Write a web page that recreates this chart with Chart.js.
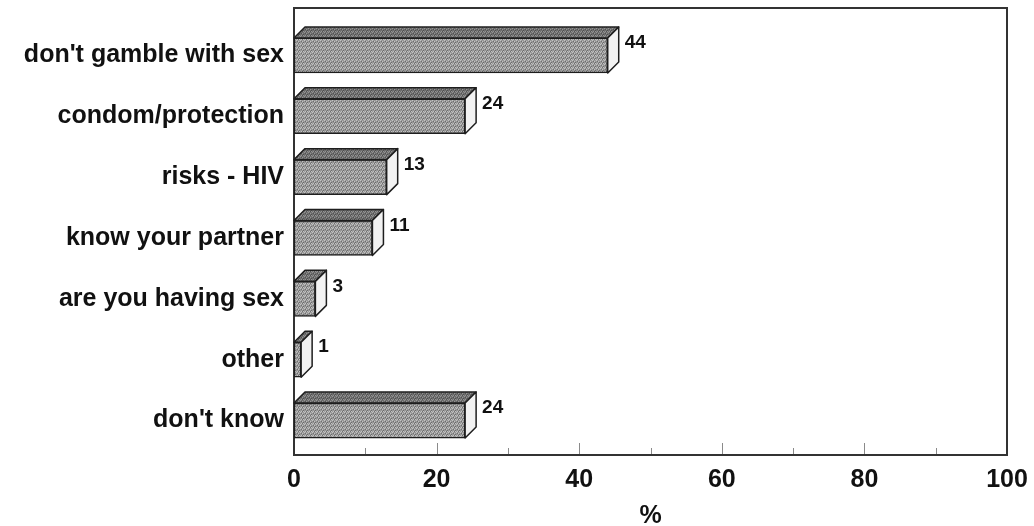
<!DOCTYPE html>
<html>
<head>
<meta charset="utf-8">
<script src="https://cdn.jsdelivr.net/npm/chart.js@4.4.1/dist/chart.umd.min.js"></script>
<style>
  body { margin: 0; background: #fff; }
</style>
</head>
<body>
<canvas id="answers" width="1034" height="526"></canvas>
<script>
const categories = ["don't gamble with sex", "condom/protection", "risks - HIV", "know your partner", "are you having sex", "other", "don't know"];
const percents = [44, 24, 13, 11, 3, 1, 24];
const xTicks = [0, 20, 40, 60, 80, 100];

const FONT = "'Liberation Sans', Arial, sans-serif";
const DEPTH = 11;

// small fixed stipple so the bars look like the old printed chart
function stipple(base, light, dark) {
    const c = document.createElement('canvas');
    c.width = 4; c.height = 4;
    const g = c.getContext('2d');
    g.fillStyle = base; g.fillRect(0, 0, 4, 4);
    g.fillStyle = light;
    [[0, 0], [2, 1], [1, 3], [3, 3]].forEach(function(p) { g.fillRect(p[0], p[1], 1, 1); });
    g.fillStyle = dark;
    [[3, 2], [1, 1], [2, 3]].forEach(function(p) { g.fillRect(p[0], p[1], 1, 1); });
    return g.createPattern(c, 'repeat');
}

const frontFill = stipple('#989898', '#c2c2c2', '#6e6e6e');
const topFill = stipple('#6e6e6e', '#949494', '#505050');

const frame = {
    id: 'frame',
    beforeDatasetsDraw(chart) {
        const ctx = chart.ctx, a = chart.chartArea, xs = chart.scales.x;
        const top = a.top - 17, bottom = a.bottom + 4;
        ctx.save();
        // tick marks point inward from the bottom line
        ctx.strokeStyle = '#8a8a8a';
        ctx.lineWidth = 1;
        for (let v = 10; v < 100; v += 10) {
            const px = Math.round(xs.getPixelForValue(v)) + 0.5;
            const len = v % 20 === 0 ? 12 : 7;
            ctx.beginPath();
            ctx.moveTo(px, bottom);
            ctx.lineTo(px, bottom - len);
            ctx.stroke();
        }
        ctx.strokeStyle = '#333';
        ctx.lineWidth = 2;
        ctx.strokeRect(a.left, top, a.right - a.left, bottom - top);
        ctx.restore();
    }
};

const bars3d = {
    id: 'bars3d',
    afterDatasetsDraw(chart) {
        const ctx = chart.ctx;
        const meta = chart.getDatasetMeta(0);
        ctx.save();
        ctx.lineJoin = 'round';
        meta.data.forEach(function(bar, i) {
            const x0 = bar.base, x1 = bar.x;
            const y0 = bar.y - bar.height / 2, y1 = bar.y + bar.height / 2;
            ctx.strokeStyle = '#1e1e1e';
            ctx.lineWidth = 1.5;
            // top face
            ctx.beginPath();
            ctx.moveTo(x0, y0);
            ctx.lineTo(x0 + DEPTH, y0 - DEPTH);
            ctx.lineTo(x1 + DEPTH, y0 - DEPTH);
            ctx.lineTo(x1, y0);
            ctx.closePath();
            ctx.fillStyle = topFill;
            ctx.fill();
            ctx.stroke();
            // side face
            ctx.beginPath();
            ctx.moveTo(x1, y0);
            ctx.lineTo(x1 + DEPTH, y0 - DEPTH);
            ctx.lineTo(x1 + DEPTH, y1 - DEPTH);
            ctx.lineTo(x1, y1);
            ctx.closePath();
            ctx.fillStyle = '#f2f2f2';
            ctx.fill();
            ctx.stroke();
            // value label
            ctx.fillStyle = '#111';
            ctx.font = 'bold 19px ' + FONT;
            ctx.textAlign = 'left';
            ctx.textBaseline = 'middle';
            ctx.fillText(String(percents[i]), x1 + DEPTH + 6, y0 + 5);
        });
        ctx.restore();
    }
};

const chart = new Chart(document.getElementById('answers'), {
    type: 'bar',
    data: {
        labels: categories,
        datasets: [{
            data: percents,
            backgroundColor: frontFill,
            borderColor: '#1e1e1e',
            borderWidth: 1.5,
            borderSkipped: false,
            barThickness: 35
        }]
    },
    options: {
        indexAxis: 'y',
        responsive: false,
        animation: false,
        layout: { padding: { top: 24, right: 27, bottom: 0, left: 0 } },
        plugins: {
            legend: { display: false },
            tooltip: { enabled: false }
        },
        scales: {
            x: {
                min: 0,
                max: 100,
                afterBuildTicks: function(scale) {
                    scale.ticks = xTicks.map(function(v) { return { value: v }; });
                },
                afterFit: function(scale) {
                    scale.height = 75;
                    scale.paddingLeft = 0;
                    scale.paddingRight = 0;
                },
                grid: { display: false, drawTicks: false },
                border: { display: false },
                ticks: {
                    padding: 14,
                    color: '#111',
                    font: { family: FONT, size: 25, weight: 'bold' }
                },
                title: {
                    display: true,
                    text: '%',
                    color: '#111',
                    padding: { top: 0, bottom: -3 },
                    font: { family: FONT, size: 25, weight: 'bold', lineHeight: 1 }
                }
            },
            y: {
                afterFit: function(scale) { scale.width = 294; },
                grid: { display: false, drawTicks: false },
                border: { display: false },
                ticks: {
                    padding: 10,
                    color: '#111',
                    font: { family: FONT, size: 25, weight: 'bold' }
                }
            }
        }
    },
    plugins: [frame, bars3d]
});
</script>
</body>
</html>
